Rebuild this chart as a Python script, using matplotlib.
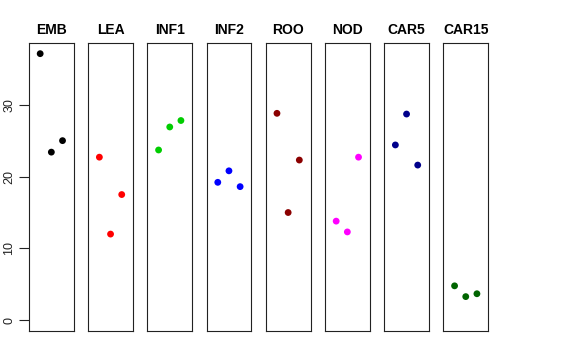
import matplotlib
matplotlib.use("Agg")
import matplotlib.pyplot as plt

tissues = ["EMB", "LEA", "INF1", "INF2", "ROO", "NOD", "CAR5", "CAR15"]
colors = ["#000000", "#FF0000", "#00CD00", "#0000FF", "#8B0000", "#FF00FF", "#00008B", "#006400"]
emb = [37.1, 23.4, 25.0]
lea = [22.7, 12.0, 17.5]
inf1 = [23.7, 26.9, 27.8]
inf2 = [19.2, 20.8, 18.6]
roo = [28.8, 15.0, 22.3]
nod = [13.8, 12.3, 22.7]
car5 = [24.4, 28.7, 21.6]
car15 = [4.8, 3.3, 3.7]
replicates = [1, 2, 3]
yticks = [0, 10, 20, 30]

values = [emb, lea, inf1, inf2, roo, nod, car5, car15]

plt.rcParams["font.family"] = ["Liberation Sans", "DejaVu Sans"]

W, H = 576, 360
fig = plt.figure(figsize=(W / 100, H / 100), dpi=100)

ymax = max(max(v) for v in values)
ypad = 0.04 * ymax
x0, spacing, w = 29.0, 59.2, 44.7
top, bottom = 43.0, 331.0

for i, (name, col, vals) in enumerate(zip(tissues, colors, values)):
    left = x0 + i * spacing
    ax = fig.add_axes([left / W, 1 - bottom / H, w / W, (bottom - top) / H])
    ax.scatter(replicates, vals, s=24, color=col, edgecolors="none", zorder=3)
    ax.set_xlim(0, 4)
    ax.set_ylim(0 - ypad, ymax + ypad)
    ax.set_xticks([])
    for sp in ax.spines.values():
        sp.set_linewidth(0.8)
        sp.set_color("#222222")
    ax.set_title(name, fontsize=10, fontweight="bold", pad=6.5)
    if i == 0:
        ax.set_yticks(yticks)
        ax.set_yticklabels([str(t) for t in yticks], rotation=90, va="center", fontsize=9)
        ax.tick_params(axis="y", length=7, width=0.8, pad=3, color="#222222", labelcolor="#222222")
    else:
        ax.set_yticks([])

fig.savefig("out.png", dpi=100)
